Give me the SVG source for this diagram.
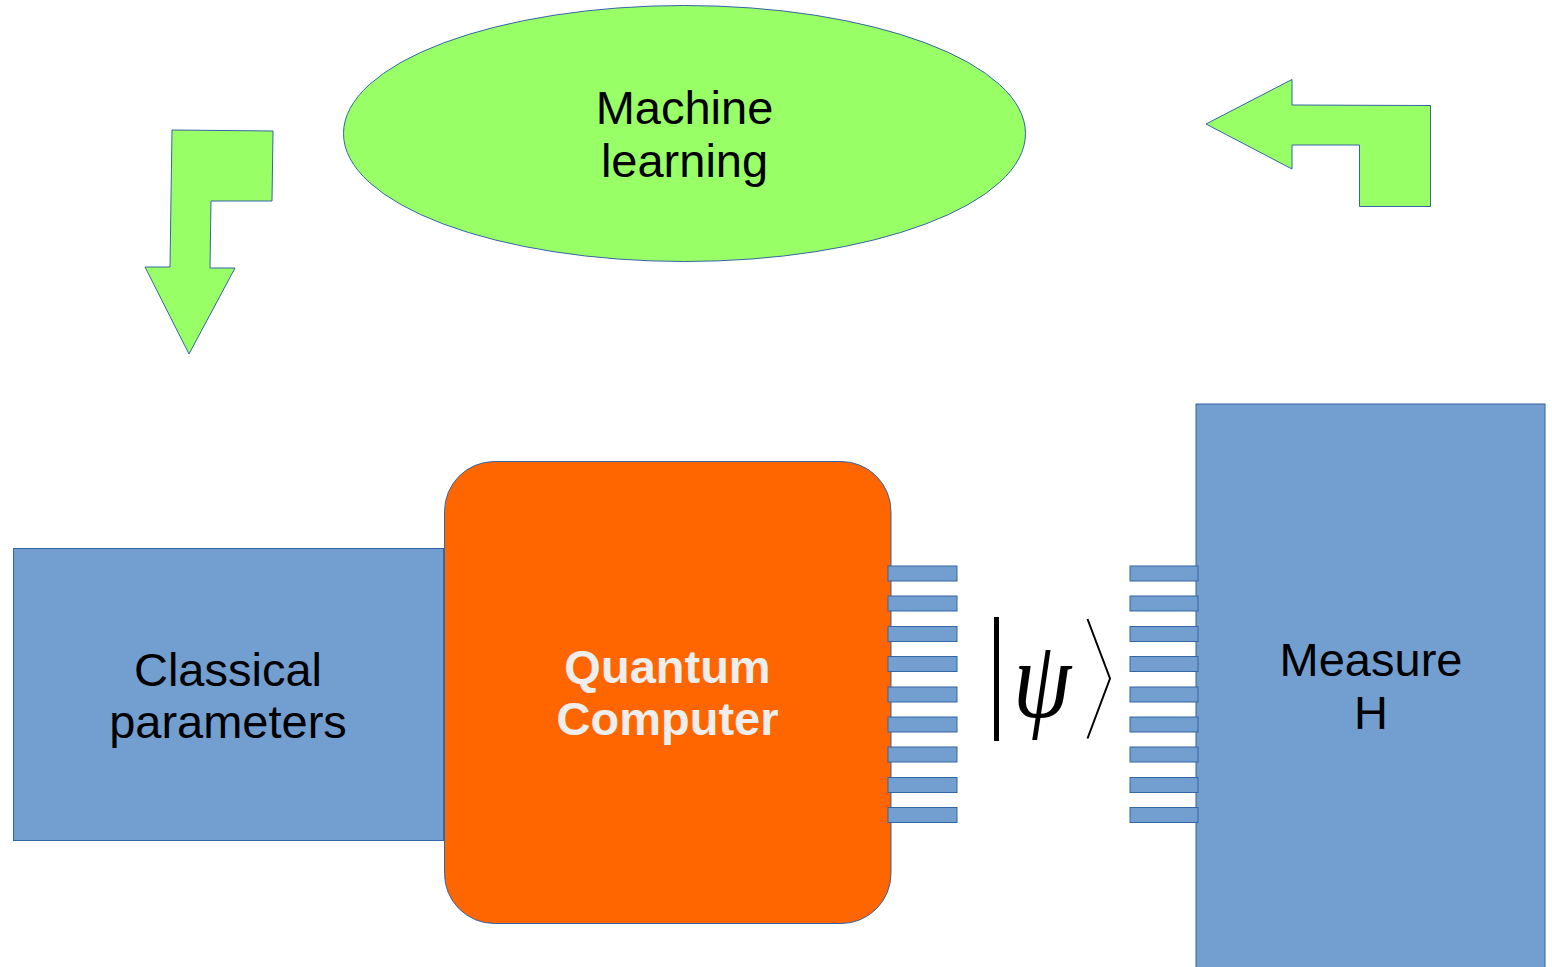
<svg xmlns="http://www.w3.org/2000/svg" width="1552" height="967" viewBox="0 0 1552 967">
<style>
.lbl{font-family:"Liberation Sans",Arial,sans-serif;font-size:47px;fill:#000;text-anchor:middle}
.qc{font-family:"Liberation Sans",Arial,sans-serif;font-size:47px;font-weight:bold;fill:#eeeeee;text-anchor:middle}
.blue{fill:#729fcf;stroke:#3465a4;stroke-width:1}
.green{fill:#99ff66;stroke:#3465a4;stroke-width:1}
.pin{fill:#729fcf;stroke:#3465a4;stroke-width:1}
</style>
<rect width="1552" height="967" fill="#ffffff"/>
<g id="machine-learning">
<ellipse class="green" cx="684.5" cy="133.5" rx="341" ry="128"/>
<text class="lbl" x="684.5" y="124">Machine</text>
<text class="lbl" x="684.5" y="177">learning</text>
</g>
<g id="connectors">
<polygon id="arrow-down" class="green" points="172,130 273,131 272,201 211,201 210,268 235,268 189,354 145,267 170,267"/>
<polygon id="arrow-left" class="green" points="1206,124 1292,79.5 1292,105 1430.5,105.5 1430.5,206.5 1359.5,206.5 1359.5,145 1292,145 1292,169"/>
</g>
<g id="classical-parameters">
<rect class="blue" x="13.5" y="548.5" width="430" height="292"/>
<text class="lbl" x="228" y="686">Classical</text>
<text class="lbl" x="228" y="738">parameters</text>
</g>
<g id="measure-h">
<rect class="blue" x="1196" y="404" width="349" height="570"/>
<text class="lbl" x="1371" y="676">Measure</text>
<text class="lbl" x="1371" y="729">H</text>
<g id="measure-pins">
<rect class="pin" x="1130" y="566" width="68" height="15"/>
<rect class="pin" x="1130" y="596" width="68" height="15"/>
<rect class="pin" x="1130" y="626.5" width="68" height="15"/>
<rect class="pin" x="1130" y="656.5" width="68" height="15"/>
<rect class="pin" x="1130" y="687" width="68" height="15"/>
<rect class="pin" x="1130" y="717" width="68" height="15"/>
<rect class="pin" x="1130" y="747" width="68" height="15"/>
<rect class="pin" x="1130" y="777.5" width="68" height="15"/>
<rect class="pin" x="1130" y="807.5" width="68" height="15"/>
</g>
</g>
<g id="quantum-computer">
<rect x="444.5" y="461.5" width="446.5" height="462" rx="50" ry="50" fill="#ff6600" stroke="#3465a4" stroke-width="1"/>
<text class="qc" x="667.5" y="683">Quantum</text>
<text class="qc" x="667.5" y="735">Computer</text>
<g id="qc-pins">
<rect class="pin" x="888" y="566" width="69" height="15"/>
<rect class="pin" x="888" y="596" width="69" height="15"/>
<rect class="pin" x="888" y="626.5" width="69" height="15"/>
<rect class="pin" x="888" y="656.5" width="69" height="15"/>
<rect class="pin" x="888" y="687" width="69" height="15"/>
<rect class="pin" x="888" y="717" width="69" height="15"/>
<rect class="pin" x="888" y="747" width="69" height="15"/>
<rect class="pin" x="888" y="777.5" width="69" height="15"/>
<rect class="pin" x="888" y="807.5" width="69" height="15"/>
</g>
</g>
<g id="psi-ket">
<rect x="994" y="617" width="5" height="124" fill="#000"/>
<text transform="translate(1042,717) scale(0.85,1)" x="0" y="0" font-family="'Liberation Serif','Times New Roman',serif" font-style="italic" font-size="110" fill="#000" text-anchor="middle">ψ</text>
<polyline points="1087.5,619 1110,678.5 1087.5,738.5" fill="none" stroke="#000" stroke-width="2"/>
</g>
</svg>
